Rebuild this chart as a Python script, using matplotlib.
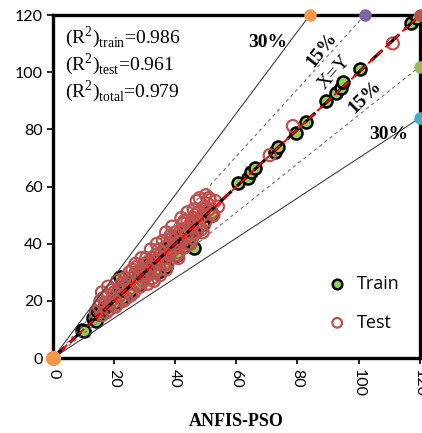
import matplotlib
matplotlib.use("Agg")
import matplotlib.pyplot as plt

# ANFIS-PSO predicted (x) vs observed (y)
train_x = [9.5, 10, 13, 14, 14.5, 15, 16, 17, 18, 19, 20, 20.5, 21, 22, 22.5, 23, 24, 25,
           26, 27, 28, 28.5, 29, 30, 31, 31.5, 32, 33, 34, 34.5, 35, 36, 36.5, 37, 37.5, 38,
           39, 40, 40.5, 41, 42, 42.5, 43, 44, 44.5, 45, 46, 46.5, 47, 48, 49, 50, 51, 52,
           60.6, 63.8, 64.9, 66, 72.5, 73.6, 79.6, 82.9, 89.4, 92.7, 94.3, 94.9, 100.3, 117.2, 119]
train_y = [10, 9.5, 14, 13, 16, 15.5, 17, 18, 18.5, 20, 21, 19.5, 22, 28.5, 21, 24, 25, 23,
           26.5, 27, 29, 26, 30, 31, 30, 33, 32, 34, 33, 30, 35, 35.5, 38, 32, 36, 38,
           40, 41, 36, 42, 43, 39, 44, 45, 41, 47, 38.5, 45, 47, 49, 47, 50, 51, 50,
           61.1, 62.9, 65.2, 66.4, 72.2, 74, 78.6, 82.7, 89.8, 92.6, 94.4, 96.7, 101, 117.1, 119]

test_x = [14, 15, 16, 16.5, 17, 18, 18.5, 19, 20, 21, 21.5, 22, 23, 24, 24.5, 25, 26, 26.5,
          27, 28, 29, 29.5, 30, 31, 31.5, 32, 33, 33.5, 34, 35, 35.5, 36, 37, 37.5, 38, 39,
          39.5, 40, 41, 41.5, 42, 43, 43.5, 44, 45, 45.5, 46, 47, 47.5, 48, 49, 49.5, 50, 51,
          51.3, 52, 70.9, 78.5, 111.2,
          15.5, 17.5, 19.5, 20.5, 22.5, 23.5, 25.5, 27.5, 28.5, 30.5, 32.5, 34.5, 36.5, 38.5,
          40.5, 42.5, 44.5, 46.5, 48.5, 50.5, 52.5, 53, 54, 31, 35, 41, 45, 49,
          16, 18, 21, 23, 25, 27, 29, 30, 32, 33, 34, 36, 37, 38, 39, 40, 42, 43,
          44, 46, 47, 48, 50, 51, 26, 28, 33, 37, 41, 44]
test_y = [16, 18, 15, 21, 19, 22, 17, 20, 23, 19, 24, 22, 25, 21, 27, 24, 28, 23,
          30, 26, 31, 27, 33, 29, 34, 32, 30, 36, 34, 31, 37, 35, 39, 33, 36, 42,
          38, 40, 37, 44, 41, 45, 39, 43, 47, 42, 49, 44, 51, 46, 50, 53, 48, 52,
          55.3, 51, 71, 81.2, 110.1,
          20, 16, 24, 18, 26, 28, 22, 32, 25, 35, 28, 38, 33, 43,
          36, 47, 40, 50, 45, 54, 50, 55, 53, 26, 29, 35, 40, 44,
          23, 25, 27, 20, 30, 33, 35, 28, 38, 35, 40, 41, 44, 40, 46, 44, 49, 48,
          51, 52, 55, 56, 57, 56, 31, 30, 27, 31, 39, 48]

r2_labels = ["train", "test", "total"]
r2_values = [0.986, 0.961, 0.979]

bands = [30, 15]          # percent error bands
upper_colors = ["#F79646", "#8064A2"]
lower_colors = ["#4BACC6", "#9BBB59"]
LIM = 120

plt.rcParams["mathtext.fontset"] = "custom"
plt.rcParams["mathtext.rm"] = "Liberation Serif"

fig = plt.figure(figsize=(4.22, 4.33), dpi=100)
ax = fig.add_axes([0.1256, 0.173, 0.869, 0.792])

# points
ax.scatter(train_x, train_y, s=75, facecolor="#92D050", edgecolor="black",
           linewidth=1.8, zorder=3, label="Train")
ax.scatter(test_x, test_y, s=75, facecolor="none", edgecolor="#C0504D",
           linewidth=1.6, zorder=4, label="Test")

# error band lines
for p, cu, cl in zip(bands, upper_colors, lower_colors):
    f = 1 - p / 100
    ls = "-" if p == 30 else (0, (3, 3))
    col = "#404040" if p == 30 else "#707070"
    ax.plot([0, LIM * f], [0, LIM], color=col, lw=0.8, ls=ls, zorder=5)
    ax.plot([0, LIM], [0, LIM * f], color=col, lw=0.8, ls=ls, zorder=5)
    ax.plot([LIM * f], [LIM], "o", ms=8, color=cu, clip_on=False, zorder=7)
    ax.plot([LIM], [LIM * f], "o", ms=8, color=cl, clip_on=False, zorder=7)

# X = Y
ax.plot([0, LIM], [0, LIM], color="black", lw=2.2, ls=(0, (5, 2.5)), zorder=5)
ax.plot([0, LIM], [0, LIM], color="red", lw=1.4, ls=(0, (4, 2)), zorder=6)
ax.plot([LIM], [LIM], "o", ms=8, color="#C0504D", clip_on=False, zorder=7)
ax.plot([0], [0], "o", ms=10, color="#F79646", clip_on=False, zorder=8)

ax.set_xlim(0, LIM)
ax.set_ylim(0, LIM)
ax.set_xticks(range(0, 121, 20))
ax.set_yticks(range(0, 121, 20))
ax.tick_params(axis="both", labelsize=11.5, direction="out", length=4, width=1.2,
               colors="black")
ax.tick_params(axis="x", labelrotation=-90)
for lab in ax.get_xticklabels() + ax.get_yticklabels():
    lab.set_family("Lato")
for s in ax.spines.values():
    s.set_linewidth(2.4)

ax.set_xlabel("ANFIS-PSO", family="Liberation Serif", weight="bold", fontsize=13,
              labelpad=12)

# band labels
serif_b = dict(family="Liberation Serif", weight="bold", fontsize=14, ha="center",
               va="center", zorder=9)
ax.text(70.3, 110.3, "30%", **serif_b)
ax.text(109.8, 78.4, "30%", **serif_b)
ax.text(88, 107.8, "15%", rotation=52, **serif_b)
ax.text(102, 91.4, "15%", rotation=45, **serif_b)
ax.text(92.2, 99.8, "X=Y", rotation=48, family="Liberation Serif", fontsize=14,
        ha="center", va="center", zorder=9)

# R2 text
for i, (lbl, val) in enumerate(zip(r2_labels, r2_values)):
    ax.text(0.032, 0.935 - i * 0.078, r"(R$^2$)$_{\rm %s}$=%.3f" % (lbl, val),
            transform=ax.transAxes, family="Liberation Serif", fontsize=14,
            va="center", ha="left")

leg = ax.legend(loc="lower right", bbox_to_anchor=(0.99, 0.03), frameon=False,
                prop={"family": "Open Sans", "size": 13}, labelspacing=1.15,
                handletextpad=0.1, markerscale=0.8)

fig.savefig("out.png", dpi=100)
